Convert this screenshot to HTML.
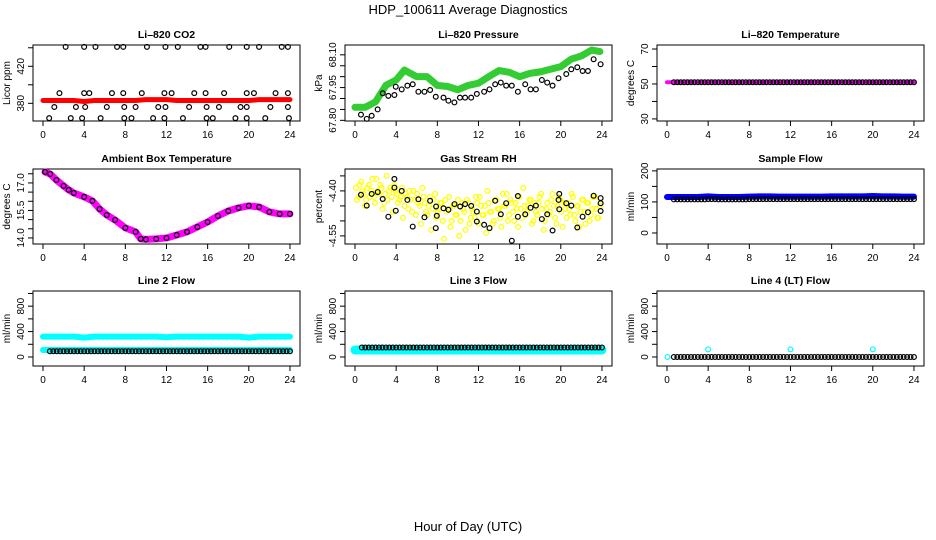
<!DOCTYPE html>
<html><head><meta charset="utf-8"><style>
body{margin:0;background:#fff;}
svg{display:block;font-family:"Liberation Sans",sans-serif;}
</style></head><body>
<svg id="c" width="936" height="540" viewBox="0 0 936 540">
<text x="468" y="14" text-anchor="middle" font-size="13">HDP_100611  Average Diagnostics</text>
<text x="468" y="531" text-anchor="middle" font-size="13">Hour of Day (UTC)</text>
</svg>
<script>
// ---- data ----
const xTicks=[0,4,8,12,16,20,24];
const coBand=[383,383,383,383,382,383,383,383,383,383,384,384,384,383,383,383,383,383,383,383,383,384,384,384,384];
const coH=[2.2,4.0,5.1,7.2,7.8,10.1,11.9,13.1,15.3,15.8,18.1,19.8,21.0,23.2,23.8,
1.6,4.0,4.5,6.7,7.8,9.6,11.8,12.5,14.7,15.8,17.6,19.8,20.5,22.6,23.8,
1.1,3.2,4.1,6.2,7.9,9.0,11.2,11.9,14.2,15.9,17.1,19.2,19.8,22.1,23.8,
0.6,2.7,3.8,5.6,7.9,8.6,10.7,11.8,13.6,15.9,16.5,18.7,19.8,21.6,23.9];
const coV=[441,441,441,441,441,441,441,441,441,441,441,441,441,441,441,
391,391,391,391,391,391,391,391,391,391,391,391,391,391,391,
376,376,376,376,376,376,376,376,376,376,376,376,376,376,376,
364,364,364,364,364,364,364,364,364,364,364,364,364,364,364];
const prBandH=[0,1,2,3,4,4.8,6,7,8,9,10,11,12,13,14,15,16,17,18,19,20,21,22,23,23.8];
const prBandV=[67.86,67.86,67.885,67.96,67.985,68.03,68.0,68.0,67.96,67.955,67.94,67.96,67.97,68.0,68.028,68.02,68.0,68.015,68.022,68.034,68.046,68.08,68.095,68.122,68.115];
const prH=[0.58,1.14,1.62,2.2,2.7,3.24,3.83,3.96,4.54,5.09,5.61,6.16,6.75,7.3,7.85,8.6,9.08,9.66,10.2,10.7,11.29,11.84,12.55,13.07,13.62,14.17,14.69,15.24,15.83,16.54,17.06,17.58,18.16,18.68,19.2,19.78,20.53,21.02,21.6,22.12,22.64,23.19,23.87];
const prV=[67.826,67.807,67.821,67.850,67.924,67.912,67.916,67.954,67.942,67.959,67.965,67.931,67.931,67.939,67.908,67.904,67.890,67.882,67.904,67.904,67.904,67.921,67.931,67.942,67.965,67.973,67.959,67.959,67.931,67.965,67.942,67.942,67.985,67.973,67.959,67.993,68.012,68.034,68.043,68.026,68.026,68.080,68.057];
const ltTemp=[51,51,51,51,51,51,51,51,51,51,51,51,51,51,51,51,51,51,51,51,51,51,51,51,51];
const ltBlack=[51,51,51,51,51,51,51,51,51,51,51,51,51,51,51,51,51,51,51,51,51,51,51,51,51];
const ambH=[0.2,0.7,1.3,2,2.5,3,4,4.8,5.5,6.2,7,8,9,9.5,10,11,12,13,14,15,16,17,18,19,20,21,22,23,24];
const ambV=[17.6,17.49,17.16,16.84,16.62,16.45,16.24,16.02,15.58,15.25,14.98,14.55,14.33,13.95,13.92,13.95,14.0,14.16,14.33,14.6,14.87,15.2,15.47,15.64,15.75,15.69,15.42,15.31,15.31];
const rhYA=[-4.39,-4.42,-4.37,-4.41,-4.43,-4.38,-4.40,-4.42,-4.36,-4.41,-4.39,-4.44,-4.35,-4.40,-4.42,-4.38,-4.41,-4.43,-4.39,-4.45,-4.42,-4.40,-4.47,-4.43,-4.41,-4.45,-4.39,-4.44,-4.48,-4.42,-4.46,-4.41,-4.47,-4.44,-4.50,-4.43,-4.46,-4.52,-4.45,-4.48,-4.43,-4.50,-4.46,-4.53,-4.44,-4.49,-4.47,-4.42,-4.51,-4.45,-4.48,-4.54,-4.44,-4.47,-4.50,-4.43,-4.46,-4.52,-4.45,-4.41,-4.48,-4.44,-4.50,-4.46,-4.42,-4.49,-4.45,-4.47,-4.43,-4.51,-4.44,-4.48,-4.42,-4.46,-4.50,-4.44,-4.47,-4.41,-4.49,-4.45,-4.43,-4.52,-4.46,-4.44,-4.48,-4.42,-4.50,-4.45,-4.47,-4.43,-4.51,-4.44,-4.48,-4.42,-4.46,-4.49,-4.44];
const rhYB=[-4.43,-4.38,-4.40,-4.45,-4.39,-4.42,-4.36,-4.44,-4.40,-4.38,-4.46,-4.41,-4.43,-4.39,-4.47,-4.40,-4.44,-4.42,-4.49,-4.41,-4.46,-4.43,-4.40,-4.48,-4.44,-4.51,-4.42,-4.47,-4.45,-4.53,-4.43,-4.49,-4.46,-4.44,-4.56,-4.47,-4.42,-4.50,-4.45,-4.48,-4.55,-4.44,-4.47,-4.43,-4.51,-4.46,-4.49,-4.44,-4.42,-4.48,-4.45,-4.40,-4.47,-4.51,-4.43,-4.46,-4.49,-4.41,-4.45,-4.50,-4.43,-4.47,-4.44,-4.52,-4.46,-4.39,-4.48,-4.45,-4.43,-4.50,-4.47,-4.44,-4.41,-4.53,-4.46,-4.48,-4.43,-4.45,-4.51,-4.42,-4.47,-4.44,-4.49,-4.46,-4.41,-4.48,-4.45,-4.52,-4.43,-4.47,-4.44,-4.50,-4.46,-4.42,-4.49,-4.45];
const rhH=[0.58,1.14,1.62,2.21,2.69,3.24,3.83,3.83,3.96,4.54,5.09,5.61,6.16,6.75,7.30,7.85,7.88,7.95,8.6,9.08,9.67,10.22,10.7,11.29,11.84,11.84,12.55,13.07,13.62,14.17,14.69,15.24,15.83,15.83,16.54,17.06,17.58,18.16,18.68,19.2,19.78,19.85,19.85,20.53,21.02,21.6,22.12,22.64,23.19,23.87,23.87,23.87];
const rhV=[-4.413,-4.449,-4.410,-4.404,-4.427,-4.486,-4.36,-4.389,-4.466,-4.40,-4.43,-4.519,-4.428,-4.488,-4.433,-4.524,-4.452,-4.483,-4.458,-4.463,-4.444,-4.452,-4.444,-4.45,-4.469,-4.502,-4.513,-4.524,-4.433,-4.478,-4.441,-4.566,-4.417,-4.486,-4.478,-4.456,-4.449,-4.494,-4.478,-4.532,-4.43,-4.41,-4.461,-4.441,-4.449,-4.522,-4.486,-4.471,-4.416,-4.424,-4.441,-4.467];
const sfBlue=[116,116,116,116,118,116,116,116,117,118,118,117,117,117,117,117,118,118,118,118,119,118,118,117,117];
const sfBlack=[108,108,108,108,109,108,108,108,109,109,109,109,109,109,109,109,109,109,109,109,109,109,109,109,109];
const l2Hi=[320,320,320,320,305,320,320,320,320,320,320,320,310,320,320,320,320,320,320,320,305,320,320,320,320];
const l2Lo=[110,110,110,110,110,110,110,110,110,110,110,110,110,110,110,110,110,110,110,110,110,110,110,110,110];
const l2Black=[90,90,90,90,90,90,90,90,90,90,90,90,90,90,90,90,90,90,90,90,90,90,90,90,90];
const l3Cyan=[110,110,110,110,110,110,110,110,110,110,110,110,110,110,110,110,110,110,110,110,110,110,110,110,110];
const l3Black=[150,150,150,150,150,150,150,150,150,150,150,150,150,150,150,150,150,150,150,150,150,150,150,150,150];
const l4Black=[0,0,0,0,0,0,0,0,0,0,0,0,0,0,0,0,0,0,0,0,0,0,0,0,0];
const l4OutH=[0.05,4,12,20];
const l4OutV=[0,120,120,120];

// ---- drawing ----
const NS="http://www.w3.org/2000/svg";
const svg=document.getElementById('c');
function mk(tag,attrs,parent){const e=document.createElementNS(NS,tag);for(const k in attrs)e.setAttribute(k,attrs[k]);(parent||svg).appendChild(e);return e;}
const colX=[33,345,657], rowY=[45,169,291], rowH=[76,75,75], W=267;
function panel(col,row,title,ylab,ymin,ymax,yticks,ylabels,name){
  const g=mk('g',{});
  
  
  const x0=colX[col],y0=rowY[row],h=rowH[row];
  const P={g,x0,y0,h,
    X:v=>x0+10+v*10.29,
    Y:v=>y0+h-(v-ymin)/(ymax-ymin)*h};
  const t=mk('text',{x:x0+W/2,y:y0-7,'text-anchor':'middle','font-size':10.5,'font-weight':'bold'},g);
  t.textContent=title;
  
  
  const yt=mk('text',{transform:`translate(${x0-23},${y0+h/2}) rotate(-90)`,'text-anchor':'middle','font-size':10},g);
  yt.textContent=ylab;
  
  
  const fr=mk('rect',{x:x0,y:y0,width:W,height:h,fill:'none',stroke:'#000','stroke-width':1},g);
  
  
  xTicks.forEach(v=>{
    mk('line',{x1:P.X(v),x2:P.X(v),y1:y0+h,y2:y0+h+5,stroke:'#000'},g);
    const l=mk('text',{x:P.X(v),y:y0+h+17,'text-anchor':'middle','font-size':10},g);
    l.textContent=v;
    
    
  });
  yticks.forEach(v=>{mk('line',{x1:x0-5,x2:x0,y1:P.Y(v),y2:P.Y(v),stroke:'#000'},g);});
  ylabels.forEach(s=>{
    const l=mk('text',{transform:`translate(${x0-9},${P.Y(parseFloat(s))}) rotate(-90)`,'text-anchor':'middle','font-size':10},g);
    l.textContent=s;
    
    
  });
  return P;
}
function band(P,hs,vs,color,w,name){
  const pts=vs.map((v,i)=>P.X(hs?hs[i]:i)+','+P.Y(v)).join(' ');
  const l=mk('polyline',{points:pts,fill:'none',stroke:color,'stroke-width':w,'stroke-linejoin':'round','stroke-linecap':'round'},P.g);
  
  
}
function pts(P,hs,vs,color,name,r,sw){
  vs.forEach((v,i)=>{
    const c=mk('circle',{cx:P.X(hs[i]),cy:P.Y(v),r:r||2.4,fill:'none',stroke:color,'stroke-width':sw||1.2},P.g);
    
    
  });
}
function hourly(P,vs,color,name,start){
  vs.forEach((v,i)=>{for(let k=0;k<3;k++){const hh=i+k/3;if(hh<(start||0)||hh>24)continue;
    const c=mk('circle',{cx:P.X(hh),cy:P.Y(v),r:2.4,fill:'none',stroke:color,'stroke-width':1.2},P.g);
    
    }});
}

// CO2
let P=panel(0,0,'Li\u2013820 CO2','Licor ppm',360.9,443,[380,400,420,440],['380','420'],'co2');
band(P,null,coBand,'#ff0000',5,'co2-band');
pts(P,coH,coV,'#000','co2-point');
// Pressure
P=panel(1,0,'Li\u2013820 Pressure','kPa',67.797,68.145,[67.8,67.85,67.9,67.95,68.0,68.05,68.1],['67.80','67.95','68.10'],'pressure');
band(P,prBandH,prBandV,'#33cc33',7,'pressure-band');
pts(P,prH,prV,'#000','pressure-point');
// Li temp
P=panel(2,0,'Li\u2013820 Temperature','degrees C',28.8,72.3,[30,40,50,60,70],['30','50','70'],'li-temp');
band(P,null,ltTemp,'#ff00ff',4,'li-temp-band');
hourly(P,ltBlack,'#000','li-temp-point',0.5);
// Ambient
P=panel(0,1,'Ambient Box Temperature','degrees C',13.67,17.76,[14,14.5,15,15.5,16,16.5,17,17.5],['14.0','15.5','17.0'],'ambient');
band(P,ambH,ambV,'#ff00ff',7,'ambient-band');
pts(P,ambH,ambV,'#000','ambient-point');
// RH
P=panel(1,1,'Gas Stream RH','percent',-4.577,-4.327,[-4.35,-4.4,-4.45,-4.5,-4.55],['-4.40','-4.55'],'rh');
pts(P,rhYA.map((v,i)=>0.1+i*23.8/(rhYA.length-1)),rhYA,'#ffff00','rh-yellow-point');
pts(P,rhYB.map((v,i)=>0.2+i*23.6/(rhYB.length-1)),rhYB,'#ffff00','rh-yellow-point');
pts(P,rhH,rhV,'#000','rh-point');
// Sample flow
P=panel(2,1,'Sample Flow','ml/min',-35.5,206,[0,50,100,150,200],['0','100','200'],'sample-flow');
band(P,null,sfBlue,'#0000ff',6,'sample-flow-band');
hourly(P,sfBlack,'#000','sample-flow-point',0.5);
// Line 2
P=panel(0,2,'Line 2 Flow','ml/min',-142,1039,[0,200,400,600,800,1000],['0','400','800'],'line2');
band(P,null,l2Hi,'#00ffff',6,'line2-high-band');
band(P,null,l2Lo,'#00ffff',6,'line2-low-band');
hourly(P,l2Black,'#000','line2-point',0.5);
// Line 3
P=panel(1,2,'Line 3 Flow','ml/min',-142,1039,[0,200,400,600,800,1000],['0','400','800'],'line3');
band(P,null,l3Cyan,'#00ffff',9,'line3-band');
hourly(P,l3Black,'#000','line3-point',0.5);
// Line 4
P=panel(2,2,'Line 4 (LT) Flow','ml/min',-142,1039,[0,200,400,600,800,1000],['0','400','800'],'line4');
pts(P,l4OutH,l4OutV,'#00ffff','line4-cyan-point');
hourly(P,l4Black,'#000','line4-point',0.5);
</script>
</body></html>
